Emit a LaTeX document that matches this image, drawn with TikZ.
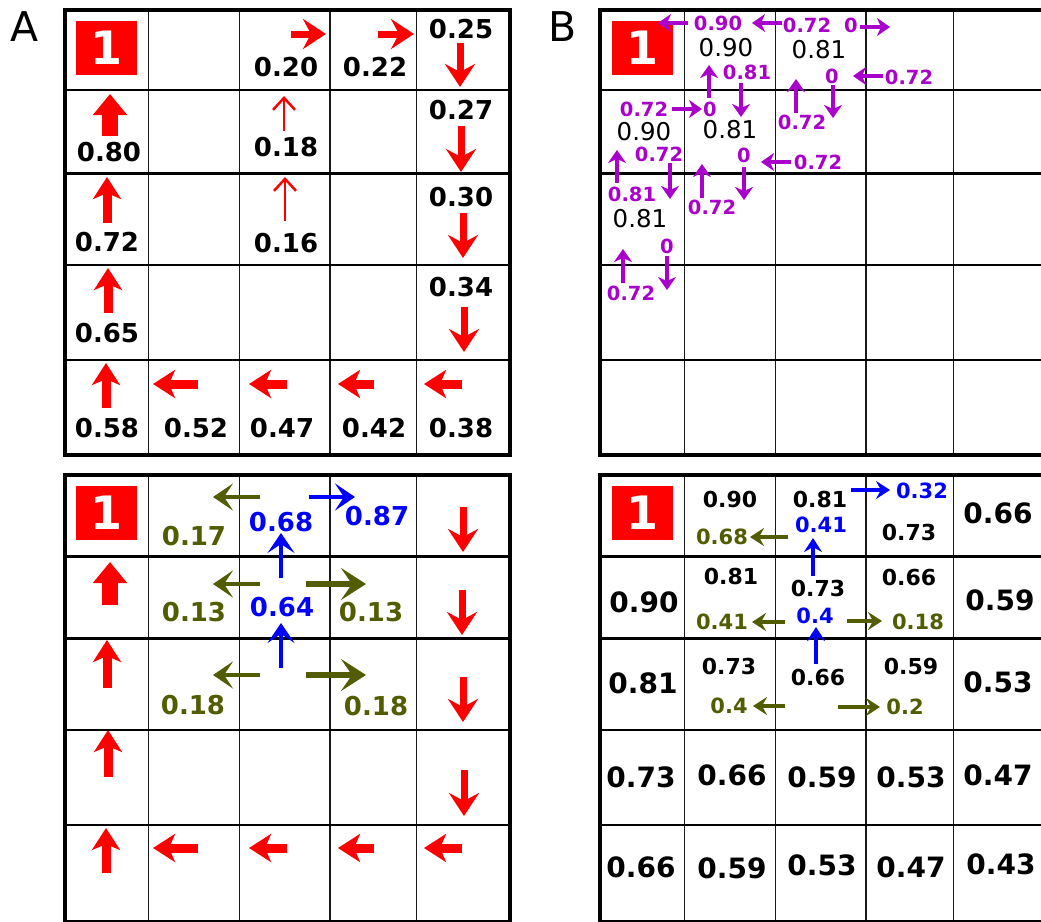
\documentclass[tikz,border=0pt]{standalone}
\usepackage{fontspec}
\setmainfont{DejaVu Sans}
\usetikzlibrary{arrows.meta}
\definecolor{purp}{RGB}{170,0,204}
\definecolor{oliv}{RGB}{82,92,0}
\tikzset{
  vl/.style={line width=1.4pt, black!90},
  hl/.style={line width=2.7pt},
  fr/.style={line width=3.2pt},
  tA/.style={font=\bfseries\fontsize{26}{26}\selectfont, inner sep=0pt},
  tbig/.style={font=\bfseries\fontsize{28}{28}\selectfont, inner sep=0pt},
  tsm/.style={font=\bfseries\fontsize{22}{22}\selectfont, inner sep=0pt},
  tolA/.style={tA, text=oliv},
  tblA/.style={tA, text=blue},
  tol/.style={font=\bfseries\fontsize{21}{21}\selectfont, inner sep=0pt, text=oliv},
  tbl/.style={font=\bfseries\fontsize{21}{21}\selectfont, inner sep=0pt, text=blue},
  tpu/.style={font=\bfseries\fontsize{19.5}{19.5}\selectfont, inner sep=0pt, text=purp},
  tnorm/.style={font=\fontsize{24.5}{24.5}\selectfont, inner sep=0pt},
  one/.style={fill=red, text=white, minimum width=61pt, minimum height=54pt, inner sep=0pt, font=\bfseries\fontsize{46}{46}\selectfont},
  panlab/.style={font=\fontsize{41}{41}\selectfont, inner sep=0pt},
  ah/.style n args={4}{line width=#1, -{Stealth[length=#2,width=#3,inset=#4]}},
  rmed/.style={red, ah={7pt}{23pt}{30pt}{8pt}},
  rfat/.style={red, ah={9pt}{22pt}{28pt}{6pt}},
  rhuge/.style={red, ah={16pt}{21pt}{33pt}{0pt}},
  rthin/.style={red, line width=2.5pt, -{Straight Barb[length=12pt,width=22pt]}},
  olA/.style={oliv, ah={4.5pt}{20pt}{27pt}{9pt}},
  olAw/.style={oliv, ah={6pt}{25pt}{32pt}{11pt}},
  blA/.style={blue, ah={4.5pt}{20pt}{27pt}{9pt}},
  pa/.style={purp, ah={4.5pt}{13pt}{18pt}{4pt}},
  bb/.style={ah={4pt}{14pt}{18pt}{5pt}},
}
\newcommand\drawgrid[6]{%
  \foreach \gx in {#1} \draw[vl] (\gx,#5) -- (\gx,#6);
  \foreach \gy in {#2} \draw[hl] (#3,\gy) -- (#4,\gy);
  \draw[fr] (#3,#5) rectangle (#4,#6);}
\begin{document}
\begin{tikzpicture}[x=1pt,y=-1pt]
\useasboundingbox (0,0) rectangle (1041,921);
% ---------- grids ----------
\drawgrid{148.3,239.3,330,416.7}{90,173.3,265,360}{65}{510}{10}{455}
\drawgrid{684.3,775.3,866,953.3}{90,173.3,265,360}{600}{1046}{10}{455}
\drawgrid{148.3,239.3,330,416.7}{556.7,638.3,730,825}{65}{510}{475}{921.5}
\drawgrid{684.3,775.3,866,953.3}{556.7,638.3,730,825}{600}{1046}{475}{921.5}
% ---------- panel labels ----------
\node[panlab] (labA) at (25,27) {A};
\node[panlab] (labB) at (563,27) {B};
% ---------- goal boxes ----------
\node[one] (g1) at (106.5,48) {1};
\node[one] (g2) at (642,48) {1};
\node[one] (g3) at (106.5,513) {1};
\node[one] (g4) at (642,513) {1};
% ================= Panel A top =================
\node[tA] (a1) at (286,67) {0.20};
\node[tA] (a2) at (375,67) {0.22};
\node[tA] (a3) at (461,29) {0.25};
\node[tA] (a4) at (109,152) {0.80};
\node[tA] (a5) at (286,147) {0.18};
\node[tA] (a6) at (461,110) {0.27};
\node[tA] (a7) at (107,242) {0.72};
\node[tA] (a8) at (286,243) {0.16};
\node[tA] (a9) at (461,197) {0.30};
\node[tA] (a10) at (107,333) {0.65};
\node[tA] (a11) at (461,287) {0.34};
\node[tA] (a12) at (107,428) {0.58};
\node[tA] (a13) at (196,428) {0.52};
\node[tA] (a14) at (282,428) {0.47};
\node[tA] (a15) at (374,428) {0.42};
\node[tA] (a16) at (461,428) {0.38};
\draw[rmed] (291,34) -- (326,34);
\draw[rmed] (378,34) -- (414,34);
\draw[rmed] (460,43) -- (460,87);
\draw[rhuge] (110,136) -- (110,94);
\draw[rthin] (284,131) -- (284,96);
\draw[rmed] (461,126) -- (461,172);
\draw[rfat] (107,223) -- (107,177);
\draw[rthin] (285,221) -- (285,177);
\draw[rmed] (463,213) -- (463,258);
\draw[rfat] (108,313) -- (108,268);
\draw[rmed] (464,307) -- (464,352);
\draw[rfat] (106,408) -- (106,363);
\draw[rfat] (198,384) -- (153,384);
\draw[rfat] (287,384) -- (249,384);
\draw[rfat] (374,384) -- (338,384);
\draw[rfat] (462,384) -- (424,384);
% ================= Panel A bottom =================
\draw[rmed] (463,507) -- (463,552);
\draw[rhuge] (110,605) -- (110,562);
\draw[rmed] (462,590) -- (462,635);
\draw[rfat] (107,688) -- (107,640);
\draw[rmed] (463,677) -- (463,722);
\draw[rfat] (108,777) -- (108,730);
\draw[rmed] (464,770) -- (464,816);
\draw[rfat] (106,873) -- (106,828);
\draw[rfat] (198,848) -- (153,848);
\draw[rfat] (287,848) -- (249,848);
\draw[rfat] (374,848) -- (338,848);
\draw[rfat] (462,848) -- (424,848);
\node[tolA] (c1) at (194,536) {0.17};
\node[tblA] (c2) at (281,522) {0.68};
\node[tblA] (c3) at (377,516) {0.87};
\node[tolA] (c4) at (194,612) {0.13};
\node[tolA] (c5) at (371,612) {0.13};
\node[tblA] (c6) at (282,607) {0.64};
\node[tolA] (c7) at (193,705) {0.18};
\node[tolA] (c8) at (376,706) {0.18};
\draw[olA] (260,497) -- (213,497);
\draw[blA] (309,497) -- (355,497);
\draw[blA] (281,578) -- (281,533);
\draw[olA] (260,584) -- (213,584);
\draw[olAw] (306,584) -- (366,584);
\draw[blA] (281,668) -- (281,623);
\draw[olA] (260,675) -- (213,675);
\draw[olAw] (306,675) -- (366,675);
% ================= Panel B top =================
\node[tpu] (b1) at (718,23) {0.90};
\node[tpu] (b2) at (807,25) {0.72};
\node[tpu] (b3) at (851,25) {0};
\node[tnorm] (b4) at (726,48) {0.90};
\node[tnorm] (b5) at (819,50) {0.81};
\node[tpu] (b6) at (747,72) {0.81};
\node[tpu] (b7) at (832,76) {0};
\node[tpu] (b8) at (909,77) {0.72};
\node[tpu] (b9) at (802,122) {0.72};
\node[tpu] (b10) at (644,109) {0.72};
\node[tpu] (b11) at (710,109) {0};
\node[tnorm] (b12) at (644,132) {0.90};
\node[tnorm] (b13) at (730,130) {0.81};
\node[tpu] (b14) at (659,154) {0.72};
\node[tpu] (b15) at (632,194) {0.81};
\node[tpu] (b16) at (712,207) {0.72};
\node[tpu] (b17) at (744,155) {0};
\node[tpu] (b18) at (818,162) {0.72};
\node[tnorm] (b19) at (640,219) {0.81};
\node[tpu] (b20) at (667,246) {0};
\node[tpu] (b21) at (631,293) {0.72};
\draw[pa] (688,23) -- (658,23);
\draw[pa] (782,23) -- (752,23);
\draw[pa] (860,27) -- (890,27);
\draw[pa] (709,98) -- (709,65);
\draw[pa] (741,83) -- (741,117);
\draw[pa] (883,76) -- (853,76);
\draw[pa] (796,113) -- (796,79);
\draw[pa] (833,85) -- (833,118);
\draw[pa] (672,109) -- (702,109);
\draw[pa] (617,183) -- (617,150);
\draw[pa] (670,163) -- (670,199);
\draw[pa] (702,198) -- (702,164);
\draw[pa] (744,167) -- (744,200);
\draw[pa] (791,162) -- (761,162);
\draw[pa] (623,283) -- (623,249);
\draw[pa] (667,256) -- (667,290);
% ================= Panel B bottom =================
\node[tsm] (d1) at (730,499) {0.90};
\node[tsm] (d2) at (820,499) {0.81};
\node[tsm] (d3) at (909,532) {0.73};
\node[tsm] (d4) at (731,576) {0.81};
\node[tsm] (d5) at (818,588) {0.73};
\node[tsm] (d6) at (909,577) {0.66};
\node[tsm] (d7) at (729,666) {0.73};
\node[tsm] (d8) at (818,677) {0.66};
\node[tsm] (d9) at (911,666) {0.59};
\node[tbig] (e1) at (998,513) {0.66};
\node[tbig] (e2) at (644,602) {0.90};
\node[tbig] (e3) at (1000,600) {0.59};
\node[tbig] (e4) at (643,683) {0.81};
\node[tbig] (e5) at (998,682) {0.53};
\node[tbig] (e6) at (641,777) {0.73};
\node[tbig] (e7) at (732,775) {0.66};
\node[tbig] (e8) at (822,777) {0.59};
\node[tbig] (e9) at (911,777) {0.53};
\node[tbig] (e10) at (998,775) {0.47};
\node[tbig] (e11) at (641,867) {0.66};
\node[tbig] (e12) at (732,868) {0.59};
\node[tbig] (e13) at (822,865) {0.53};
\node[tbig] (e14) at (911,867) {0.47};
\node[tbig] (e15) at (1001,864) {0.43};
\node[tol] (f1) at (722,537) {0.68};
\node[tol] (f2) at (722,622) {0.41};
\node[tol] (f3) at (918,622) {0.18};
\node[tol] (f4) at (729,706) {0.4};
\node[tol] (f5) at (905,707) {0.2};
\node[tbl] (f6) at (922,491) {0.32};
\node[tbl] (f7) at (821,525) {0.41};
\node[tbl] (f8) at (815,616) {0.4};
\draw[bb, oliv] (788,537) -- (750,537);
\draw[bb, blue] (851,490) -- (890,490);
\draw[bb, blue] (813,576) -- (813,538);
\draw[bb, oliv] (785,622) -- (752,622);
\draw[bb, oliv] (847,621) -- (882,621);
\draw[bb, blue] (816,664) -- (816,627);
\draw[bb, oliv] (785,706) -- (753,706);
\draw[bb, oliv] (838,707) -- (880,707);
\end{tikzpicture}
\end{document}
